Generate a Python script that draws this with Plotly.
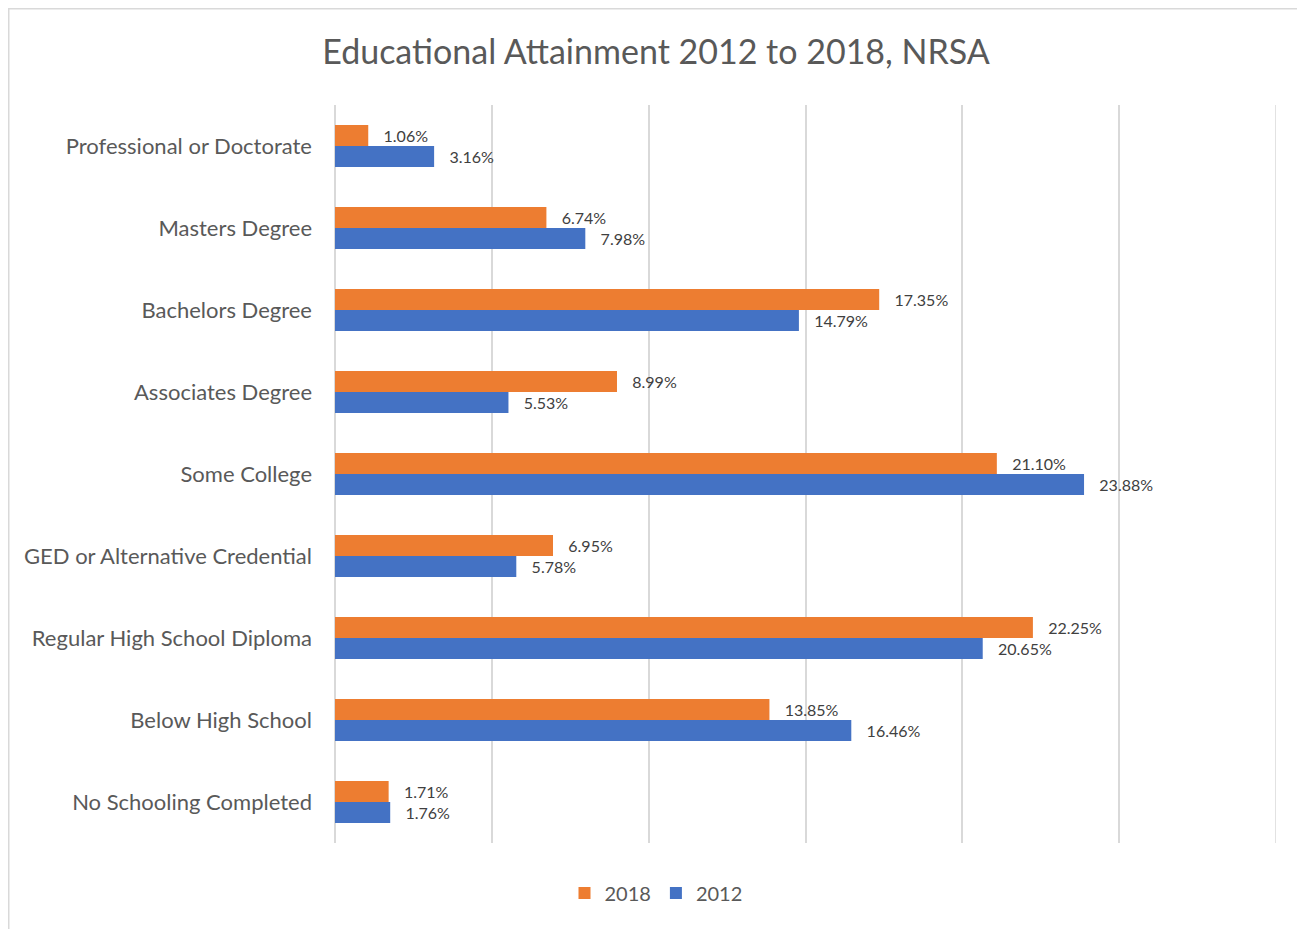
import plotly.graph_objects as go

categories = [
    "Professional or Doctorate",
    "Masters Degree",
    "Bachelors Degree",
    "Associates Degree",
    "Some College",
    "GED or Alternative Credential",
    "Regular High School Diploma",
    "Below High School",
    "No Schooling Completed",
]
values_2018 = [1.06, 6.74, 17.35, 8.99, 21.10, 6.95, 22.25, 13.85, 1.71]
values_2012 = [3.16, 7.98, 14.79, 5.53, 23.88, 5.78, 20.65, 16.46, 1.76]
series_names = ["2018", "2012"]
colors = ["#ED7D31", "#4472C4"]
x_max = 30

OFF = 8  # page body margin
W, H = 1305 - OFF, 929 - OFF
L = 335 - OFF
T = 105 - OFF
R = W - (1276 - OFF)
B = H - (843 - OFF)
pw, ph = W - L - R, H - T - B

FONT = "Lato, Carlito, sans-serif"
GRID = "#d9d9d9"

fig = go.Figure()
for name, vals, col in zip(series_names, [values_2018, values_2012], colors):
    fig.add_trace(go.Bar(
        y=categories, x=vals, name=name, orientation="h",
        marker=dict(color=col, line=dict(width=0)),
        text=["   " + f"{v:.2f}%" for v in vals],
        textposition="outside",
        textfont=dict(family=FONT, size=16, color="#404040"),
        cliponaxis=False,
    ))

fig.update_layout(
    width=W, height=H,
    margin=dict(l=L, r=R, t=T, b=B),
    paper_bgcolor="white", plot_bgcolor="white",
    barmode="group", bargap=0.49, bargroupgap=0,
    title=dict(text="Educational Attainment 2012 to 2018, NRSA",
               x=(656 - OFF) / W, xanchor="center", y=1 - (52 - OFF) / H, yanchor="middle",
               font=dict(family=FONT, size=34, color="#595959")),
    font=dict(family=FONT, color="#595959"),
    xaxis=dict(range=[0, x_max], dtick=5, showticklabels=False,
               showgrid=True, gridcolor=GRID, gridwidth=1.5, zeroline=True,
               zerolinecolor=GRID, zerolinewidth=1.5, showline=False, ticks="",
               fixedrange=True),
    yaxis=dict(autorange="reversed", showgrid=False, showline=False, ticks="",
               tickfont=dict(family=FONT, size=22, color="#595959"), ticklabelstandoff=22),
    legend=dict(orientation="h", x=(656 - 335) / pw, xanchor="center",
                y=-(893 - 843) / ph, yanchor="middle",
                font=dict(family=FONT, size=20, color="#595959"), itemwidth=30),
    showlegend=True,
)

# last gridline at the right edge of the value axis
fig.add_shape(type="line", xref="x", yref="paper", x0=x_max, x1=x_max, y0=0, y1=1,
              line=dict(color=GRID, width=1.5), layer="below")

# outer chart border (top, left, right; bottom falls outside the picture)
fig.add_shape(type="rect", xref="paper", yref="paper",
              x0=(OFF + 0.75 - 335) / pw, x1=(1303.5 - 335) / pw,
              y0=-(940 - 843) / ph, y1=(843 - OFF - 0.75) / ph,
              line=dict(color=GRID, width=1.5), layer="below")

fig.write_html("out.html")
